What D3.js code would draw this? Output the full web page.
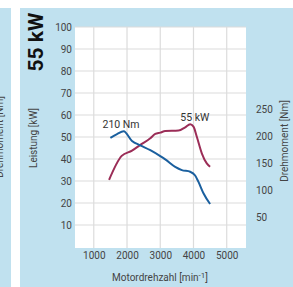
<!DOCTYPE html>
<html><head><meta charset="utf-8">
<script src="https://cdn.jsdelivr.net/npm/d3@7"></script>
<style>html,body{margin:0;padding:0;background:#fff;}svg{display:block;font-family:Roboto,"Liberation Sans",sans-serif;}</style>
</head><body>
<script>
const rpmTicks = [1000, 2000, 3000, 4000, 5000];
const kwTicks = [10, 20, 30, 40, 50, 60, 70, 80, 90, 100];
const nmTicks = [50, 100, 150, 200, 250];
const torqueRpm = [1500, 1700, 1900, 2150, 2400, 2700, 3000, 3150, 3450, 3650, 3900, 4050, 4150, 4300, 4500];
const torqueNm  = [197, 204, 209, 191, 183, 174, 163, 157, 143, 137, 134, 127, 115, 94, 74];
const powerRpm = [1460, 1840, 2150, 2400, 2700, 2850, 3000, 3150, 3550, 3750, 3900, 4000, 4100, 4250, 4400, 4500];
const powerKw  = [30.5, 41.4, 43.8, 46.4, 49.4, 51.4, 52.0, 52.7, 52.9, 54.4, 55.8, 54.7, 50.1, 42.6, 38.0, 36.5];
const annotations = [{text: "210 Nm", rpm: 1820, val: 215, axis: "nm"}, {text: "55 kW", rpm: 4040, val: 57.3, axis: "kw"}];

const W = 293, H = 287;
const svg = d3.select("body").append("svg").attr("width", W).attr("height", H);
const bg = "#c0e1ef", txt = "#444";
svg.append("rect").attr("x", 0).attr("y", 8).attr("width", 11).attr("height", H - 8).attr("fill", bg);
svg.append("rect").attr("x", 20).attr("y", 8).attr("width", W - 20).attr("height", H - 8).attr("fill", bg);

const L = 75, R = 246, T = 27, B = 247;
const x = d3.scaleLinear().domain([435, 5580]).range([L, R]);
const yK = d3.scaleLinear().domain([0, 100]).range([B, T]);
const yN = d3.scaleLinear().domain([-6, 403]).range([B, T]);

svg.append("rect").attr("x", L).attr("y", T).attr("width", R - L).attr("height", B - T + 1).attr("fill", "#fff");

const g = svg.append("g");
g.selectAll(".vg").data(rpmTicks).join("line")
  .attr("x1", d => x(d)).attr("x2", d => x(d)).attr("y1", T).attr("y2", B + 1)
  .attr("stroke", "#dcdcdc").attr("stroke-width", 1.2);
g.selectAll(".hg").data(kwTicks).join("line")
  .attr("x1", L).attr("x2", R).attr("y1", d => yK(d)).attr("y2", d => yK(d))
  .attr("stroke", "#dcdcdc").attr("stroke-width", 1.2);

// axes (labels only)
const axL = svg.append("g").attr("transform", `translate(${L - 2},0)`)
  .call(d3.axisLeft(yK).tickValues(kwTicks).tickSize(0).tickPadding(1));
const axB = svg.append("g").attr("transform", `translate(0,${B + 2})`)
  .call(d3.axisBottom(x).tickValues(rpmTicks).tickSize(0).tickPadding(3).tickFormat(d3.format("d")));
const axR = svg.append("g").attr("transform", `translate(${R + 10},0)`)
  .call(d3.axisRight(yN).tickValues(nmTicks).tickSize(0).tickPadding(0));
[axL, axB, axR].forEach(a => {
  a.select(".domain").remove();
  a.selectAll("text").attr("fill", txt).style("font-size", "10px").style("font-family", "Roboto, sans-serif");
});

const line = (xs, ys, ys2) => d3.line().curve(d3.curveMonotoneX).x((d, i) => x(xs[i])).y((d, i) => ys2(ys[i]));
svg.append("path").datum(powerRpm).attr("d", line(powerRpm, powerKw, yK))
  .attr("fill", "none").attr("stroke", "#9b2d57").attr("stroke-width", 2);
svg.append("path").datum(torqueRpm).attr("d", line(torqueRpm, torqueNm, yN))
  .attr("fill", "none").attr("stroke", "#1a5f9e").attr("stroke-width", 2);

svg.selectAll(".ann").data(annotations).join("text")
  .attr("x", d => x(d.rpm)).attr("y", d => (d.axis === "nm" ? yN(d.val) : yK(d.val)))
  .attr("text-anchor", "middle").attr("fill", "#333").style("font-size", "10.5px").text(d => d.text);

// titles
svg.append("text").attr("transform", "translate(160,281)").attr("text-anchor", "middle")
  .attr("fill", txt).style("font-size", "10px")
  .call(t => { t.append("tspan").text("Motordrehzahl [min"); t.append("tspan").attr("dy", -3).style("font-size", "8px").text("-1"); t.append("tspan").attr("dy", 3).text("]"); });
svg.append("text").attr("transform", "translate(37,138) rotate(-90)").attr("text-anchor", "middle")
  .attr("fill", txt).style("font-size", "10px").text("Leistung [kW]");
svg.append("text").attr("transform", "translate(288,141) rotate(-90)").attr("text-anchor", "middle")
  .attr("fill", txt).style("font-size", "10px").text("Drehmoment [Nm]");
svg.append("text").attr("transform", "translate(3,137) rotate(-90)").attr("text-anchor", "middle")
  .attr("fill", txt).style("font-size", "10px").text("Drehmoment [Nm]");
svg.append("text").attr("transform", "translate(43,42) rotate(-90)").attr("text-anchor", "middle")
  .attr("fill", "#111").style("font-size", "21px").style("font-weight", "bold").text("55 kW");
</script>
</body></html>
